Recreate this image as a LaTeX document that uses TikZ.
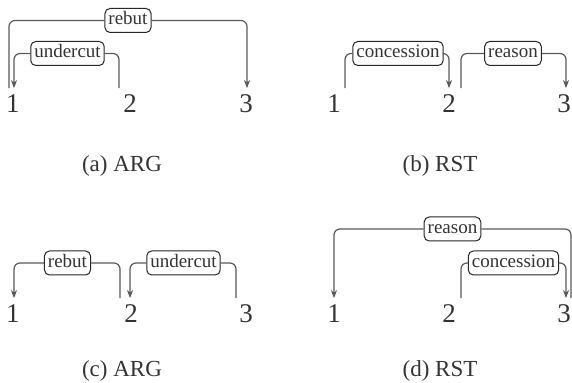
\documentclass[tikz,border=0pt]{standalone}
\usepackage{fontspec}
\setmainfont{Liberation Serif}
\usetikzlibrary{arrows.meta}
\begin{document}
\begin{tikzpicture}[x=0.5pt,y=-0.5pt,>={Stealth[length=4pt,width=3pt,inset=1.2pt]},line join=round,
	num/.style={font=\fontsize{13.5}{16}\selectfont,inner xsep=0pt,inner ysep=3.3pt,anchor=base,text=black!80},
	lab/.style={draw=black!85,rounded corners=2.5pt,line width=0.5pt,fill=white,font=\fontsize{9.5}{11}\selectfont,
		inner xsep=1.75pt,inner ysep=1.25pt,text height=0.7em,text depth=0.25em,text=black!80},
	rel/.style={draw=black!65,line width=0.6pt,rounded corners=3pt},
	subcap/.style={font=\fontsize{11.5}{14}\selectfont,anchor=base,text=black!80}]
	\useasboundingbox (0,0) rectangle (572,383);
	%% (a) ARG
	\node[num] (a1) at (13,113) {1};
	\node[num] (a2) at (130,113) {2};
	\node[num] (a3) at (246,113) {3};
	\node[lab] (aReb) at (128,20.5) {rebut};
	\node[lab] (aUnd) at (67.5,53.5) {undercut};
	\draw[rel] ([xshift=-2pt]a1.north) |- (aReb.west);
	\draw[rel,->] (aReb.east) -| ([xshift=0.5pt]a3.north);
	\draw[rel] ([xshift=-5.5pt]a2.north) |- (aUnd.east);
	\draw[rel,->] (aUnd.west) -| ([xshift=0.5pt]a1.north);
	\node[subcap] (aCap) at (122,172) {(a) ARG};
	%% (b) RST
	\node[num] (b1) at (334,113) {1};
	\node[num] (b2) at (449,113) {2};
	\node[num] (b3) at (564,113) {3};
	\node[lab] (bCon) at (398,53.5) {concession};
	\node[lab] (bRea) at (513,53.5) {reason};
	\draw[rel] ([xshift=5.5pt]b1.north) |- (bCon.west);
	\draw[rel,->] (bCon.east) -| (b2.north);
	\draw[rel] ([xshift=6pt]b2.north) |- (bRea.west);
	\draw[rel,->] (bRea.east) -| ([xshift=1pt]b3.north);
	\node[subcap] (bCap) at (440,172) {(b) RST};
	%% (c) ARG
	\node[num] (c1) at (13,323) {1};
	\node[num] (c2) at (131,323) {2};
	\node[num] (c3) at (246,323) {3};
	\node[lab] (cReb) at (67.5,263) {rebut};
	\node[lab] (cUnd) at (183.5,263) {undercut};
	\draw[rel] ([xshift=-5.5pt]c2.north) |- (cReb.east);
	\draw[rel,->] (cReb.west) -| ([xshift=0.5pt]c1.north);
	\draw[rel] ([xshift=-5pt]c3.north) |- (cUnd.east);
	\draw[rel,->] (cUnd.west) -| ([xshift=-0.5pt]c2.north);
	\node[subcap] (cCap) at (122,377) {(c) ARG};
	%% (d) RST
	\node[num] (d1) at (334,323) {1};
	\node[num] (d2) at (449,323) {2};
	\node[num] (d3) at (564,323) {3};
	\node[lab] (dRea) at (452.5,229) {reason};
	\node[lab] (dCon) at (513.5,263) {concession};
	\draw[rel] ([xshift=3.5pt]d3.north) |- (dRea.east);
	\draw[rel,->] (dRea.west) -| (d1.north);
	\draw[rel] ([xshift=6pt]d2.north) |- (dCon.west);
	\draw[rel,->] (dCon.east) -| ([xshift=1pt]d3.north);
	\node[subcap] (dCap) at (440,377) {(d) RST};
\end{tikzpicture}
\end{document}
